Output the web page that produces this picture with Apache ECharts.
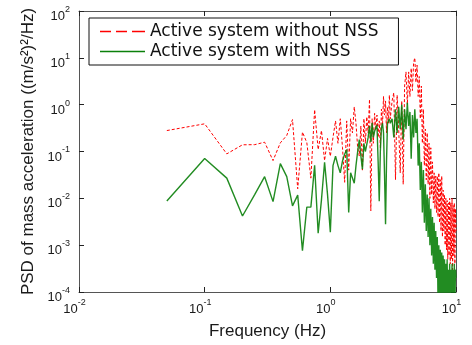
<!DOCTYPE html>
<html>
<head>
<meta charset="utf-8">
<script src="https://cdn.jsdelivr.net/npm/echarts@6/dist/echarts.min.js"></script>
<style>
html,body{margin:0;padding:0;background:#fff;}
#chart{width:472px;height:345px;}
</style>
</head>
<body>
<div id="chart"></div>
<script>
// Frequency samples (Hz)
var freq = [
  0.05,0.10,0.15,0.20,0.25,0.30,0.35,0.40,0.45,0.50,
  0.55,0.60,0.65,0.70,0.75,0.80,0.85,0.90,0.95,1.00,
  1.05,1.10,1.15,1.20,1.25,1.30,1.35,1.40,1.45,1.50,
  1.55,1.60,1.65,1.70,1.75,1.80,1.85,1.90,1.95,2.00,
  2.05,2.10,2.15,2.20,2.25,2.30,2.35,2.40,2.45,2.50,
  2.55,2.60,2.65,2.70,2.75,2.80,2.85,2.90,2.95,3.00,
  3.1,3.2,3.3,3.4,3.5,3.6,3.7,3.8,3.9,4.0,
  4.1,4.2,4.3,4.4,4.5,4.6,4.7,4.8,4.9,5.0,
  5.1,5.2,5.3,5.4,5.5,5.6,5.7,5.8,5.9,6.0,
  6.1,6.2,6.3,6.4,6.5,6.6,6.7,6.8,6.9,7.0,
  7.1,7.2,7.3,7.4,7.5,7.6,7.7,7.8,7.9,8.0,
  8.1,8.2,8.3,8.4,8.5,8.6,8.7,8.8,8.9,9.0,
  9.1,9.2,9.3,9.4,9.5,9.6,9.7,9.8,9.9,10.0
];

// PSD, active system without NSS
var psdWithout = [
  0.28,0.39,0.089,0.139,0.14,0.158,0.064,0.153,0.22,0.48,
  0.016,0.26,0.155,0.027,0.78,0.11,0.28,0.064,0.19,0.079,
  0.2,0.45,0.15,0.5,0.12,0.022,0.45,0.04,0.5,0.25,
  0.9,0.4,0.12,0.08,0.35,0.04,0.5,0.15,0.55,0.25,
  1.3,0.0054,0.5,0.15,0.65,0.3,0.6,0.2,0.45,0.12,
  0.8,0.35,1.5,0.6,1.2,0.25,0.9,0.4,1.6,0.5,
  1.2,1.8,0.025,1.6,0.3,0.035,1.2,0.02,2.5,5,
  1.0,5,1.5,6,2,8,10,3,7,1.5,
  4,0.5,2.5,0.15,0.8,0.05,0.3,0.025,0.25,0.02,
  0.15,0.01,0.12,0.012,0.06,0.008,0.035,0.006,0.03,0.005,
  0.03,0.004,0.035,0.003,0.025,0.002,0.03,0.0015,0.015,0.002,
  0.012,0.001,0.01,0.0008,0.009,0.0005,0.008,0.0006,0.01,0.0004,
  0.008,0.0005,0.01,0.0003,0.007,0.0006,0.008,0.0004,0.006,0.002
];

// PSD, active system with NSS
var psdWith = [
  0.0088,0.071,0.027,0.0042,0.012,0.029,0.0085,0.055,0.029,0.0069,
  0.0117,0.00076,0.0065,0.0065,0.051,0.0018,0.0093,0.059,0.012,0.0019,
  0.05,0.079,0.05,0.035,0.063,0.087,0.11,0.005,0.035,0.032,
  0.021,0.05,0.1,0.18,0.08,0.042,0.15,0.1,0.11,0.2,
  0.35,0.16,0.41,0.2,0.27,0.25,0.37,0.063,0.0087,0.1,
  0.32,0.4,0.25,0.032,0.0028,0.063,0.41,0.4,0.5,0.4,
  0.5,0.2,0.8,0.25,0.9,0.3,1.0,0.18,0.8,0.3,
  1.1,0.35,0.7,0.07,0.6,0.2,0.8,0.25,0.5,0.05,
  0.15,0.015,0.06,0.005,0.04,0.003,0.02,0.002,0.012,0.0015,
  0.01,0.001,0.006,0.0006,0.004,0.0004,0.003,0.0003,0.002,0.0002,
  0.0015,0.00005,0.001,0.00008,0.0008,0.00005,0.0007,0.00005,0.0006,0.00005,
  0.0005,0.00005,0.0004,0.00005,0.0005,0.00005,0.0003,0.00005,0.0004,0.00005,
  0.0003,0.00005,0.0004,0.00005,0.0003,0.00005,0.0004,0.00005,0.0003,0.0002
];

var seriesNames = ['Active system without NSS', 'Active system with NSS'];
var xName = 'Frequency (Hz)';
var yName = 'PSD of mass acceleration ((m/s\u00B2)\u00B2/Hz)';

var FONT = '"Liberation Sans", Arial, sans-serif';
var AXIS_COLOR = '#555';
var RED = '#ff0000';
var GREEN = '#0a800a';

function expLabel(v) {
  var e = Math.round(Math.log10(v));
  return '{b|10}{s|' + e + '}';
}
var richStyle = {
  b: {fontSize: 13, lineHeight: 18, verticalAlign: 'bottom', fontFamily: FONT, color: '#1a1a1a'},
  s: {fontSize: 9, lineHeight: 8, verticalAlign: 'top', fontFamily: FONT, color: '#1a1a1a'}
};

function boxAxis(pos) {
  return {
    type: 'log', logBase: 10, position: pos,
    axisLine: {show: true, onZero: false, lineStyle: {color: AXIS_COLOR, width: 1}},
    axisTick: {show: true, inside: true, length: 5, lineStyle: {color: '#222'}},
    axisLabel: {show: false},
    splitLine: {show: false},
    minorTick: {show: false}
  };
}

var xTop = boxAxis('top'); xTop.min = 0.01; xTop.max = 10; xTop.splitNumber = 3;
var yRight = boxAxis('right'); yRight.min = 1e-4; yRight.max = 100; yRight.splitNumber = 6;

// legend glyphs: dashed and solid line samples
var dashedIcon = 'path://M0,0h11v1.5h-11z M16,0h11v1.5h-11z M32,0h13v1.5h-13z';
var solidIcon = 'path://M0,0h45v1.5h-45z';

var chart = echarts.init(document.getElementById('chart'), null, {renderer: 'canvas'});
chart.setOption({
  animation: false,
  backgroundColor: '#fff',
  color: [RED, GREEN],
  grid: {left: 79, top: 11, width: 377, height: 282, show: false},
  legend: {
    orient: 'vertical',
    left: 89, top: 18,
    padding: [5, 20, 5, 11],
    itemGap: 3,
    itemWidth: 45,
    itemHeight: 12,
    backgroundColor: '#fff',
    borderColor: '#111',
    borderWidth: 1,
    borderRadius: 0,
    symbolKeepAspect: true,
    textStyle: {fontFamily: '"DejaVu Sans", sans-serif', fontSize: 17, color: '#111', lineHeight: 17},
    data: [
      {name: seriesNames[0], icon: dashedIcon, itemStyle: {color: RED, borderColor: RED, opacity: 1, borderWidth: 0}},
      {name: seriesNames[1], icon: solidIcon, itemStyle: {color: GREEN, borderColor: GREEN, opacity: 1, borderWidth: 0}}
    ]
  },
  xAxis: [{
    type: 'log', logBase: 10, min: 0.01, max: 10, splitNumber: 3,
    position: 'bottom',
    name: xName, nameLocation: 'middle', nameGap: 31,
    nameTextStyle: {fontFamily: FONT, fontSize: 17, color: '#1a1a1a'},
    axisLine: {show: true, onZero: false, lineStyle: {color: AXIS_COLOR, width: 1}},
    axisTick: {show: true, inside: true, length: 5, lineStyle: {color: '#222'}},
    axisLabel: {margin: 6, padding: [0, 9, 0, 0], formatter: expLabel, rich: richStyle},
    splitLine: {show: false},
    minorTick: {show: false}
  }, xTop],
  yAxis: [{
    type: 'log', logBase: 10, min: 1e-4, max: 100, splitNumber: 6,
    position: 'left',
    name: yName, nameLocation: 'middle', nameGap: 38, nameRotate: 90,
    nameTextStyle: {fontFamily: FONT, fontSize: 17, color: '#1a1a1a'},
    axisLine: {show: true, onZero: false, lineStyle: {color: AXIS_COLOR, width: 1}},
    axisTick: {show: true, inside: true, length: 5, lineStyle: {color: '#222'}},
    axisLabel: {margin: 9, padding: [6, 0, 0, 0], formatter: expLabel, rich: richStyle},
    splitLine: {show: false},
    minorTick: {show: false}
  }, yRight],
  series: [{
    name: seriesNames[0],
    type: 'line',
    color: RED,
    xAxisIndex: 0, yAxisIndex: 0,
    symbol: 'none',
    clip: true,
    data: freq.map(function (f, i) { return [f, psdWithout[i]]; }),
    lineStyle: {color: RED, width: 1, type: [3, 2]},
    itemStyle: {color: RED},
    z: 2
  }, {
    name: seriesNames[1],
    type: 'line',
    color: GREEN,
    xAxisIndex: 0, yAxisIndex: 0,
    symbol: 'none',
    clip: true,
    data: freq.map(function (f, i) { return [f, psdWith[i]]; }),
    lineStyle: {color: GREEN, width: 1.4, opacity: 0.9},
    itemStyle: {color: GREEN},
    z: 3
  }]
});
</script>
</body>
</html>
